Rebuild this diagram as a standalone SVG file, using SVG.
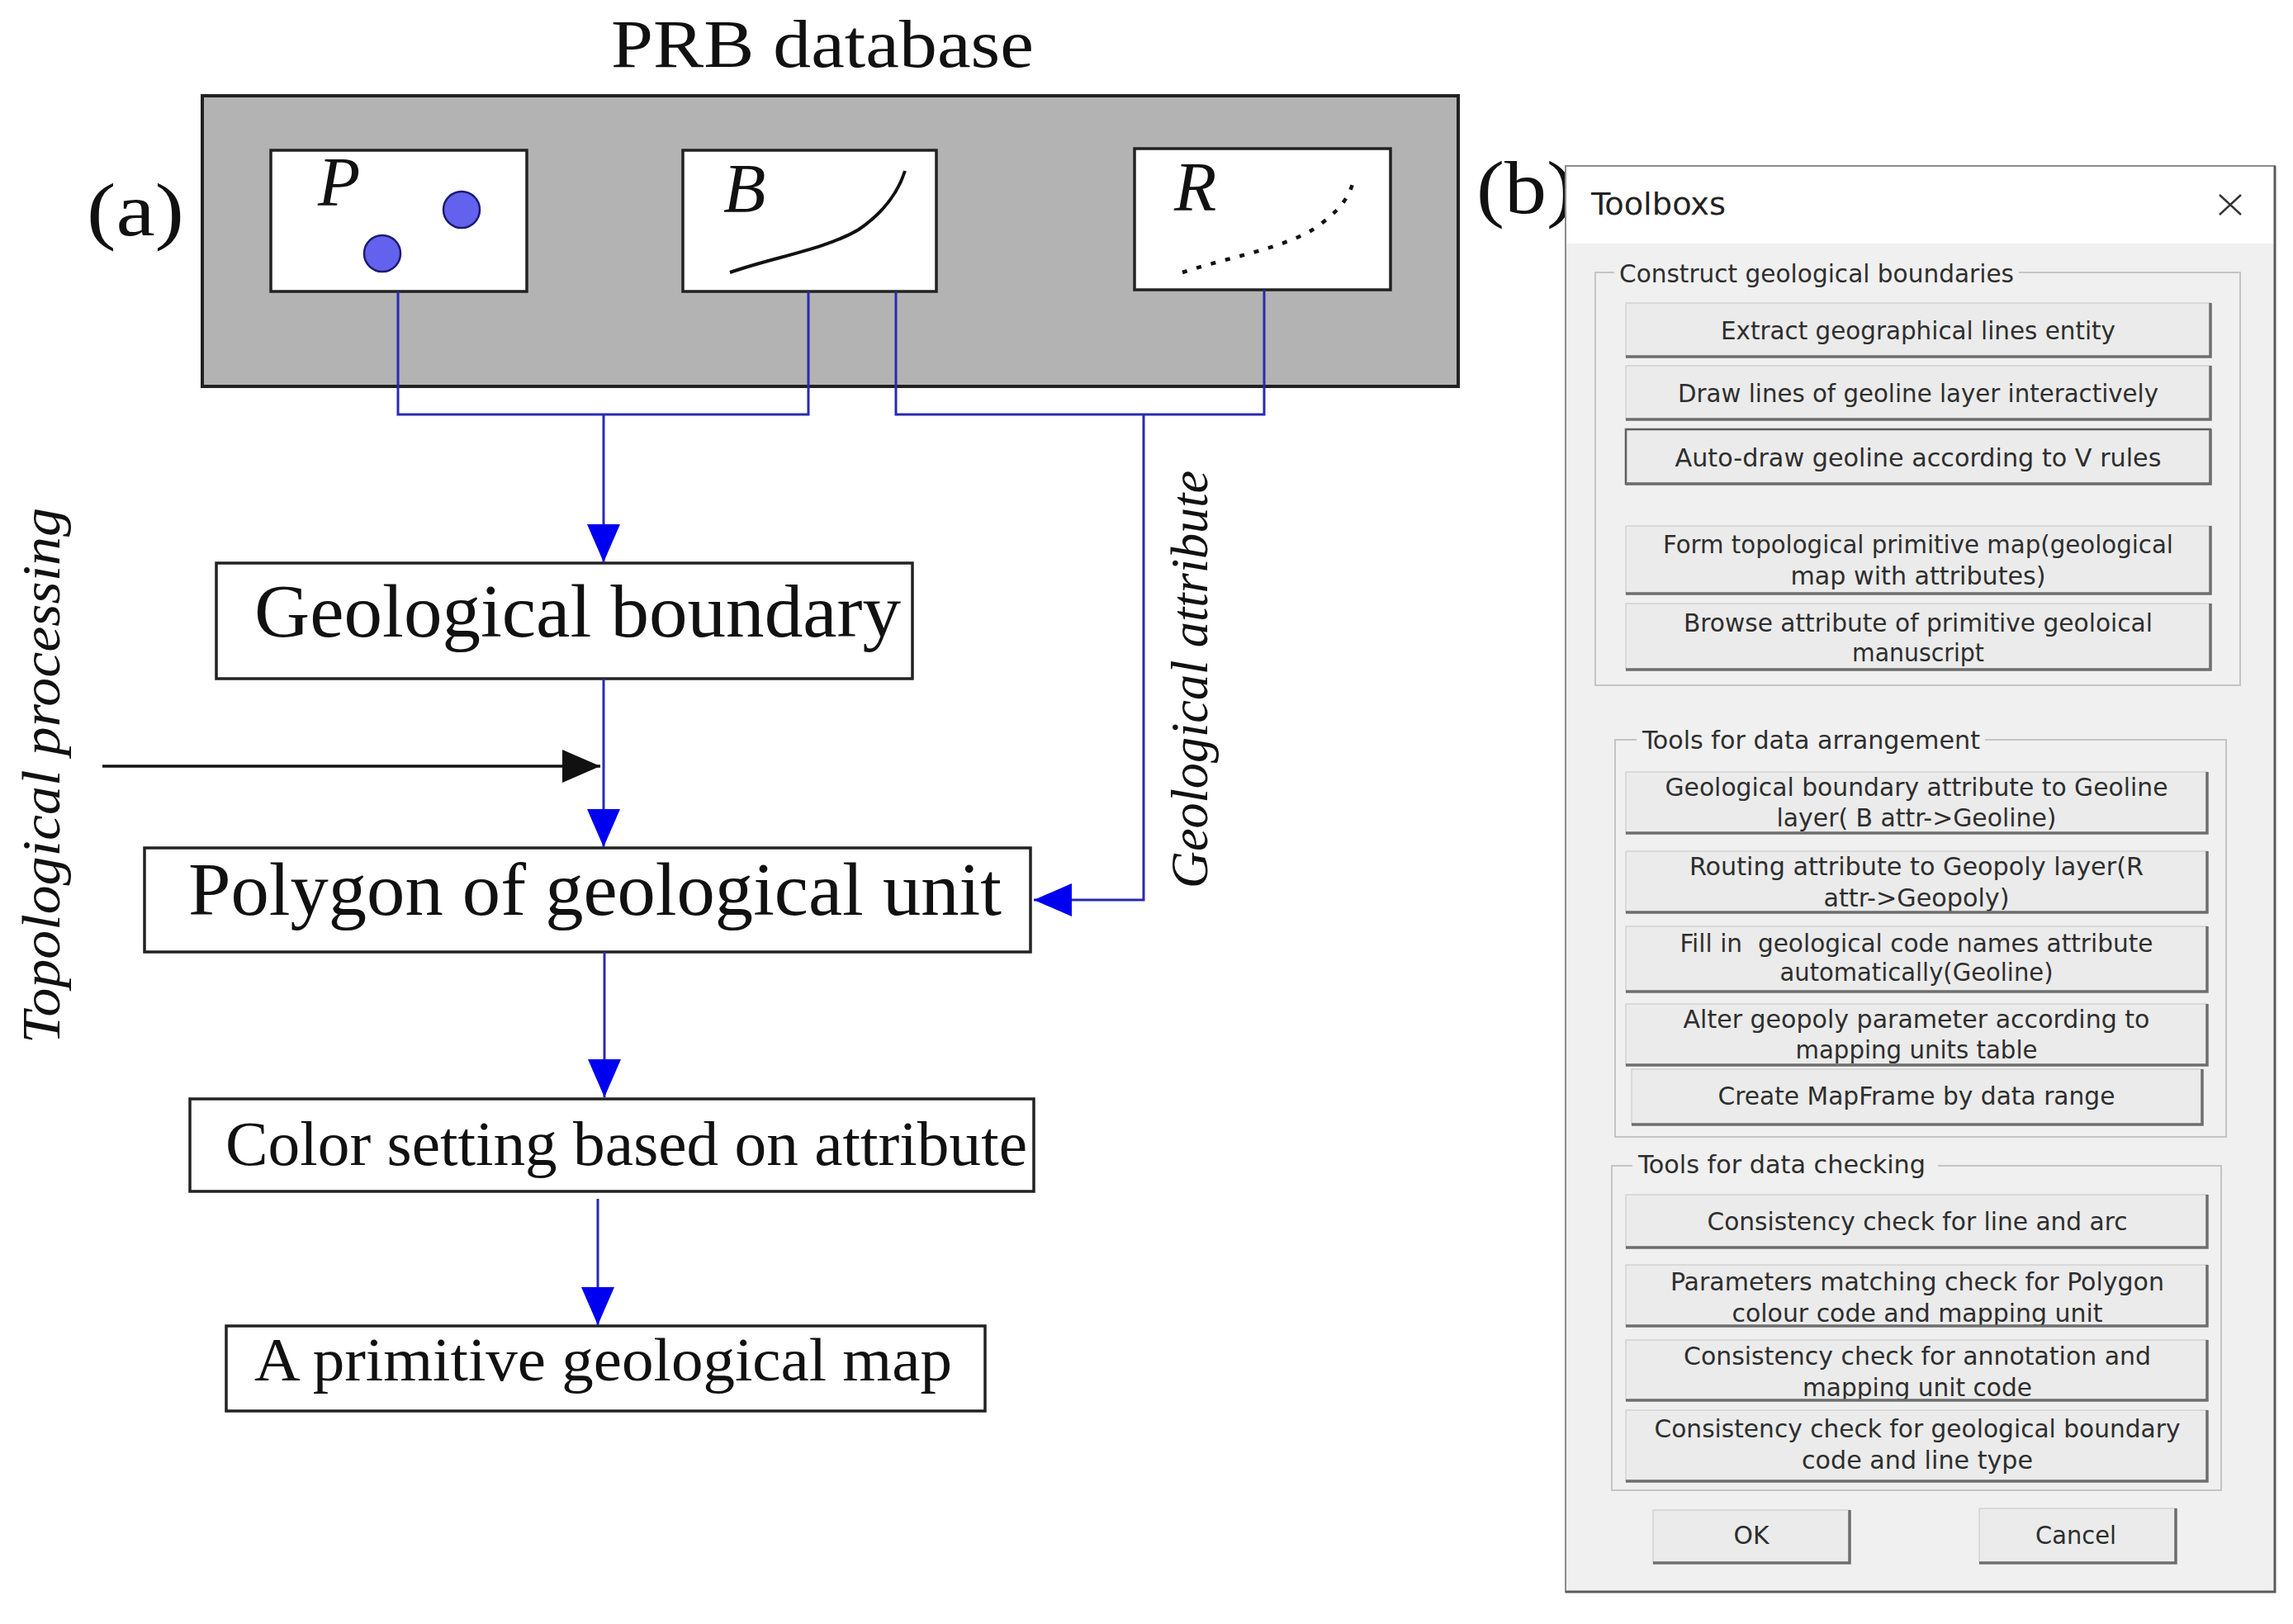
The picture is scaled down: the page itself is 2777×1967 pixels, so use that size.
<svg xmlns="http://www.w3.org/2000/svg" width="2777" height="1967" viewBox="0 0 2777 1967">
<style>
.serif{font-family:"Liberation Serif","Times New Roman",serif;fill:#111}
.it{font-style:italic}
.box{fill:#fff;stroke:#222;stroke-width:3.5}
.conn{fill:none;stroke:#2a2ab0;stroke-width:3}
.blk{fill:none;stroke:#111;stroke-width:3.5}
.ui{font-family:"DejaVu Sans Condensed","Liberation Sans Narrow","Liberation Sans",sans-serif;font-size:31px;fill:#2e2e2e}
.btn{fill:#ebebeb;stroke:#d2d2d2;stroke-width:1.5}
.focus{stroke:#5e5e5e;stroke-width:2.5}
.bsh{fill:none;stroke:#6e6e6e;stroke-width:3.5}
.grp{fill:none;stroke:#c4c4c4;stroke-width:2}
.lblbg{fill:#f0f0f0}
.dot{fill:#6262ee;stroke:#1c1c70;stroke-width:2.5}
</style>
<defs>
<marker id="ab" markerUnits="userSpaceOnUse" markerWidth="48" markerHeight="42" refX="46" refY="20" orient="auto">
<path d="M0,0 L46,20 L0,40 Z" fill="#0000f0"/>
</marker>
<marker id="ak" markerUnits="userSpaceOnUse" markerWidth="48" markerHeight="42" refX="46" refY="20" orient="auto">
<path d="M0,0 L46,20 L0,40 Z" fill="#111"/>
</marker>
</defs>
<rect width="2777" height="1967" fill="#fff"/>

<!-- Panel (a) -->
<text class="serif" x="740" y="81" font-size="82" textLength="512" lengthAdjust="spacingAndGlyphs">PRB database</text>
<text class="serif" x="105" y="285" font-size="90" textLength="118" lengthAdjust="spacingAndGlyphs">(a)</text>

<g id="prb-database">
<rect x="245" y="116" width="1521" height="352" fill="#b3b3b3" stroke="#222" stroke-width="4"/>
</g>
<g id="node-P">
<rect class="box" x="328" y="182" width="310" height="171"/>
<text class="serif it" x="385" y="249" font-size="84">P</text>
<circle class="dot" cx="559" cy="254" r="22"/>
<circle class="dot" cx="463" cy="307" r="22"/>
</g>
<g id="node-B">
<rect class="box" x="827" y="182" width="307" height="171"/>
<text class="serif it" x="876" y="257" font-size="84">B</text>
<path d="M884,330 C935,312 1000,302 1040,278 C1072,256 1088,232 1096,207" fill="none" stroke="#111" stroke-width="4"/>
</g>
<g id="node-R">
<rect class="box" x="1374" y="180" width="310" height="171"/>
<text class="serif it" x="1422" y="255" font-size="84">R</text>
<path d="M1432,330 C1485,312 1550,302 1590,278 C1620,258 1634,240 1639,219" fill="none" stroke="#111" stroke-width="4.5" stroke-dasharray="6,12"/>
</g>

<g id="node-geological-boundary">
<rect class="box" x="262" y="682" width="843" height="140"/>
<text class="serif" x="308" y="771" font-size="90" textLength="783" lengthAdjust="spacingAndGlyphs">Geological boundary</text>
</g>
<g id="node-polygon">
<rect class="box" x="175" y="1027" width="1073" height="126"/>
<text class="serif" x="228" y="1108" font-size="90" textLength="985" lengthAdjust="spacingAndGlyphs">Polygon of geological unit</text>
</g>
<g id="node-color">
<rect class="box" x="230" y="1331" width="1022" height="112"/>
<text class="serif" x="273" y="1411" font-size="76" textLength="971" lengthAdjust="spacingAndGlyphs">Color setting based on attribute</text>
</g>
<g id="node-map">
<rect class="box" x="274" y="1606" width="919" height="103"/>
<text class="serif" x="308" y="1672" font-size="74" textLength="845" lengthAdjust="spacingAndGlyphs">A primitive geological map</text>
</g>

<g id="label-topological">
<text class="serif it" transform="translate(72,1264) rotate(-90)" font-size="66" textLength="649" lengthAdjust="spacingAndGlyphs">Topological processing</text>
</g>
<g id="label-attribute">
<text class="serif it" transform="translate(1462,1076) rotate(-90)" font-size="64" textLength="506" lengthAdjust="spacingAndGlyphs">Geological attribute</text>
</g>

<g id="connectors">
<path class="conn" d="M482,353 V502 H979 V353"/>
<path class="conn" d="M1085,353 V502 H1531 V351"/>
<path class="conn" d="M731,502 V681" marker-end="url(#ab)"/>
<path class="conn" d="M1385,502 V1090 H1252" marker-end="url(#ab)"/>
<path class="conn" d="M731,822 V1026" marker-end="url(#ab)"/>
<path class="blk" d="M124,928 H727" marker-end="url(#ak)"/>
<path class="conn" d="M732,1153 V1329" marker-end="url(#ab)"/>
<path class="conn" d="M724,1452 V1605" marker-end="url(#ab)"/>
</g>

<!-- Panel (b) -->
<text class="serif" x="1788" y="258" font-size="90" textLength="119" lengthAdjust="spacingAndGlyphs">(b)</text>

<g id="dialog">
<rect x="1896" y="201" width="859" height="1727" fill="#f0f0f0" stroke="#8c8c8c" stroke-width="2"/>
<rect x="1897" y="202" width="857" height="93" fill="#fff"/>
<path d="M1896,1928 H2755 V201" fill="none" stroke="#5a5a5a" stroke-width="3"/>
<text x="1927" y="260" font-family="DejaVu Sans Condensed,Liberation Sans,sans-serif" font-size="38" fill="#222" textLength="163" lengthAdjust="spacingAndGlyphs">Toolboxs</text>
<path d="M2688,236 L2714,260 M2714,236 L2688,260" stroke="#333" stroke-width="2.5" fill="none"/>
</g>

<g id="group-construct">
<rect class="grp" x="1932" y="330" width="781" height="500"/>
<rect class="lblbg" x="1955" y="315" width="490" height="32"/>
<text class="ui" x="1961" y="342" textLength="478" lengthAdjust="spacingAndGlyphs">Construct geological boundaries</text>
</g>
<g id="btn-extract">
<rect class="btn" x="1969" y="367" width="708" height="65"/>
<path class="bsh" d="M1969,432 H2677 V367"/>
<text class="ui" x="2323" y="411" text-anchor="middle" textLength="478" lengthAdjust="spacingAndGlyphs">Extract geographical lines entity</text>
</g>
<g id="btn-draw">
<rect class="btn" x="1969" y="443" width="708" height="65"/>
<path class="bsh" d="M1969,508 H2677 V443"/>
<text class="ui" x="2323" y="487" text-anchor="middle" textLength="582" lengthAdjust="spacingAndGlyphs">Draw lines of geoline layer interactively</text>
</g>
<g id="btn-auto">
<rect class="btn focus" x="1969" y="520" width="708" height="66"/>
<path class="bsh" d="M1969,586 H2677 V520"/>
<text class="ui" x="2323" y="565" text-anchor="middle" textLength="589" lengthAdjust="spacingAndGlyphs">Auto-draw geoline according to V rules</text>
</g>
<g id="btn-form">
<rect class="btn" x="1969" y="637" width="708" height="82"/>
<text class="ui" x="2323" y="670" text-anchor="middle" textLength="618" lengthAdjust="spacingAndGlyphs">Form topological primitive map(geological</text>
<text class="ui" x="2323" y="708" text-anchor="middle" textLength="309" lengthAdjust="spacingAndGlyphs">map with attributes)</text>
<path class="bsh" d="M1969,719 H2677 V637"/>
</g>
<g id="btn-browse">
<rect class="btn" x="1969" y="731" width="708" height="80"/>
<text class="ui" x="2323" y="765" text-anchor="middle" textLength="568" lengthAdjust="spacingAndGlyphs">Browse attribute of primitive geoloical</text>
<text class="ui" x="2323" y="801" text-anchor="middle" textLength="160" lengthAdjust="spacingAndGlyphs">manuscript</text>
<path class="bsh" d="M1969,811 H2677 V731"/>
</g>

<g id="group-arrangement">
<rect class="grp" x="1956" y="896" width="740" height="481"/>
<rect class="lblbg" x="1982" y="881" width="422" height="32"/>
<text class="ui" x="1989" y="907" textLength="409" lengthAdjust="spacingAndGlyphs">Tools for data arrangement</text>
</g>
<g id="btn-battr">
<rect class="btn" x="1969" y="935" width="704" height="74"/>
<text class="ui" x="2321" y="964" text-anchor="middle" textLength="609" lengthAdjust="spacingAndGlyphs">Geological boundary attribute to Geoline</text>
<text class="ui" x="2321" y="1001" text-anchor="middle" textLength="339" lengthAdjust="spacingAndGlyphs">layer( B attr-&gt;Geoline)</text>
<path class="bsh" d="M1969,1009 H2673 V935"/>
</g>
<g id="btn-rattr">
<rect class="btn" x="1969" y="1031" width="704" height="74"/>
<text class="ui" x="2321" y="1060" text-anchor="middle" textLength="550" lengthAdjust="spacingAndGlyphs">Routing attribute to Geopoly layer(R</text>
<text class="ui" x="2321" y="1098" text-anchor="middle" textLength="225" lengthAdjust="spacingAndGlyphs">attr-&gt;Geopoly)</text>
<path class="bsh" d="M1969,1105 H2673 V1031"/>
</g>
<g id="btn-fill">
<rect class="btn" x="1969" y="1122" width="704" height="79"/>
<text class="ui" x="2321" y="1153" text-anchor="middle" textLength="573" lengthAdjust="spacingAndGlyphs" xml:space="preserve">Fill in  geological code names attribute</text>
<text class="ui" x="2321" y="1188" text-anchor="middle" textLength="331" lengthAdjust="spacingAndGlyphs">automatically(Geoline)</text>
<path class="bsh" d="M1969,1201 H2673 V1122"/>
</g>
<g id="btn-alter">
<rect class="btn" x="1969" y="1216" width="704" height="74"/>
<text class="ui" x="2321" y="1245" text-anchor="middle" textLength="565" lengthAdjust="spacingAndGlyphs">Alter geopoly parameter according to</text>
<text class="ui" x="2321" y="1282" text-anchor="middle" textLength="293" lengthAdjust="spacingAndGlyphs">mapping units table</text>
<path class="bsh" d="M1969,1290 H2673 V1216"/>
</g>
<g id="btn-mapframe">
<rect class="btn" x="1976" y="1295" width="691" height="67"/>
<path class="bsh" d="M1976,1362 H2667 V1295"/>
<text class="ui" x="2321" y="1338" text-anchor="middle" textLength="481" lengthAdjust="spacingAndGlyphs">Create MapFrame by data range</text>
</g>

<g id="group-checking">
<rect class="grp" x="1952" y="1412" width="738" height="393"/>
<rect class="lblbg" x="1977" y="1396" width="370" height="32"/>
<text class="ui" x="1984" y="1421" textLength="348" lengthAdjust="spacingAndGlyphs">Tools for data checking</text>
</g>
<g id="btn-linearc">
<rect class="btn" x="1969" y="1447" width="704" height="64"/>
<path class="bsh" d="M1969,1511 H2673 V1447"/>
<text class="ui" x="2322" y="1490" text-anchor="middle" textLength="509" lengthAdjust="spacingAndGlyphs">Consistency check for line and arc</text>
</g>
<g id="btn-params">
<rect class="btn" x="1969" y="1532" width="704" height="74"/>
<text class="ui" x="2322" y="1563" text-anchor="middle" textLength="598" lengthAdjust="spacingAndGlyphs">Parameters matching check for Polygon</text>
<text class="ui" x="2322" y="1601" text-anchor="middle" textLength="449" lengthAdjust="spacingAndGlyphs">colour code and mapping unit</text>
<path class="bsh" d="M1969,1606 H2673 V1532"/>
</g>
<g id="btn-annot">
<rect class="btn" x="1969" y="1623" width="704" height="73"/>
<text class="ui" x="2322" y="1653" text-anchor="middle" textLength="566" lengthAdjust="spacingAndGlyphs">Consistency check for annotation and</text>
<text class="ui" x="2322" y="1691" text-anchor="middle" textLength="278" lengthAdjust="spacingAndGlyphs">mapping unit code</text>
<path class="bsh" d="M1969,1696 H2673 V1623"/>
</g>
<g id="btn-boundary">
<rect class="btn" x="1969" y="1708" width="704" height="86"/>
<text class="ui" x="2322" y="1741" text-anchor="middle" textLength="637" lengthAdjust="spacingAndGlyphs">Consistency check for geological boundary</text>
<text class="ui" x="2322" y="1779" text-anchor="middle" textLength="280" lengthAdjust="spacingAndGlyphs">code and line type</text>
<path class="bsh" d="M1969,1794 H2673 V1708"/>
</g>
<g id="btn-ok">
<rect class="btn" x="2002" y="1829" width="238" height="64"/>
<path class="bsh" d="M2002,1893 H2240 V1829"/>
<text class="ui" x="2121" y="1870" text-anchor="middle" textLength="43" lengthAdjust="spacingAndGlyphs">OK</text>
</g>
<g id="btn-cancel">
<rect class="btn" x="2397" y="1827" width="238" height="66"/>
<path class="bsh" d="M2397,1893 H2635 V1827"/>
<text class="ui" x="2514" y="1870" text-anchor="middle" textLength="98" lengthAdjust="spacingAndGlyphs">Cancel</text>
</g>
</svg>
